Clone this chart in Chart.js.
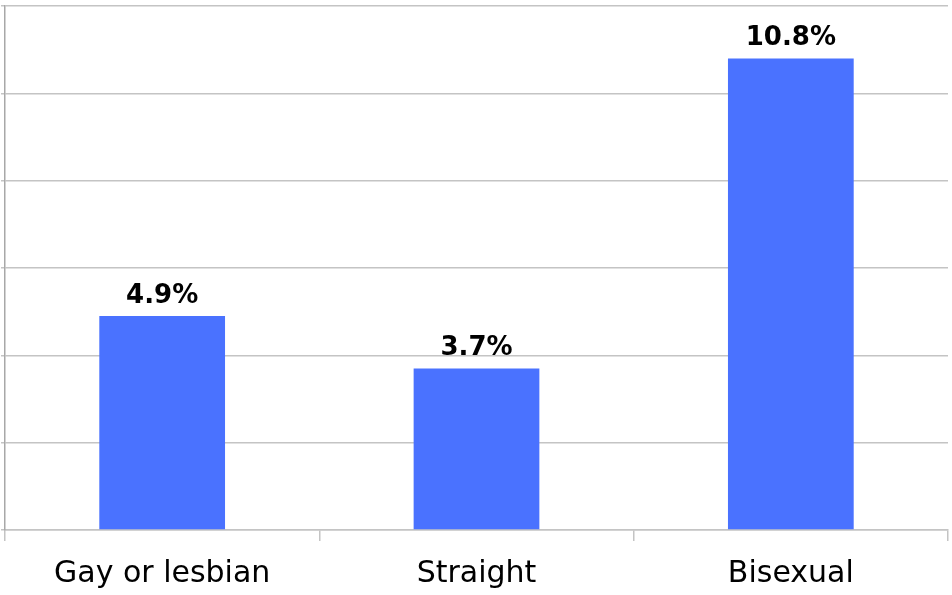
<!DOCTYPE html>
<html>
<head>
<meta charset="utf-8">
<script src="https://cdn.jsdelivr.net/npm/chart.js@4/dist/chart.umd.min.js"></script>
<style>
  html, body { margin: 0; padding: 0; background: #fff; }
  #wrap { width: 952px; height: 595px; }
</style>
</head>
<body>
<div id="wrap"><canvas id="orientationChart" width="952" height="595"></canvas></div>
<script>
var categories = ['Gay or lesbian', 'Straight', 'Bisexual'];
var percentValues = [4.9, 3.7, 10.8];
var yTicks = [0, 2, 4, 6, 8, 10, 12];

// draws "x.x%" above each bar
var valueLabels = {
    id: 'valueLabels',
    afterDatasetsDraw: function(chart) {
        var ctx = chart.ctx;
        var meta = chart.getDatasetMeta(0);
        ctx.save();
        ctx.font = 'bold 26px "DejaVu Sans", sans-serif';
        ctx.fillStyle = '#000';
        ctx.textAlign = 'center';
        ctx.textBaseline = 'bottom';
        meta.data.forEach(function(bar, i) {
            ctx.fillText(percentValues[i].toFixed(1) + '%', bar.x, bar.y - 7);
        });
        ctx.restore();
    }
};

document.addEventListener('DOMContentLoaded', function() {
    var ctx = document.getElementById('orientationChart');
    new Chart(ctx, {
        type: 'bar',
        data: {
            labels: categories,
            datasets: [{
                data: percentValues,
                backgroundColor: '#4a72ff',
                borderWidth: 0,
                barPercentage: 0.4,
                categoryPercentage: 1
            }]
        },
        options: {
            responsive: false,
            animation: false,
            layout: { padding: { top: 6, right: 4, left: 1, bottom: 0 } },
            plugins: {
                legend: { display: false },
                tooltip: { enabled: false }
            },
            scales: {
                x: {
                    afterFit: function(axis) { axis.height = 65; },
                    grid: {
                        drawOnChartArea: false,
                        offset: true,
                        color: '#c4c4c4',
                        lineWidth: 1.5,
                        tickLength: 11
                    },
                    border: { color: '#c4c4c4', width: 1.5 },
                    ticks: {
                        color: '#000',
                        padding: 15,
                        font: { family: '"DejaVu Sans", sans-serif', size: 30 }
                    }
                },
                y: {
                    min: yTicks[0],
                    max: yTicks[yTicks.length - 1],
                    afterBuildTicks: function(axis) {
                        axis.ticks = yTicks.map(function(v) { return { value: v }; });
                    },
                    grid: { color: '#c4c4c4', lineWidth: 1.5, tickLength: 4 },
                    border: { color: '#a8a8a8', width: 1.5 },
                    ticks: { display: false }
                }
            }
        },
        plugins: [valueLabels]
    });
});
</script>
</body>
</html>
